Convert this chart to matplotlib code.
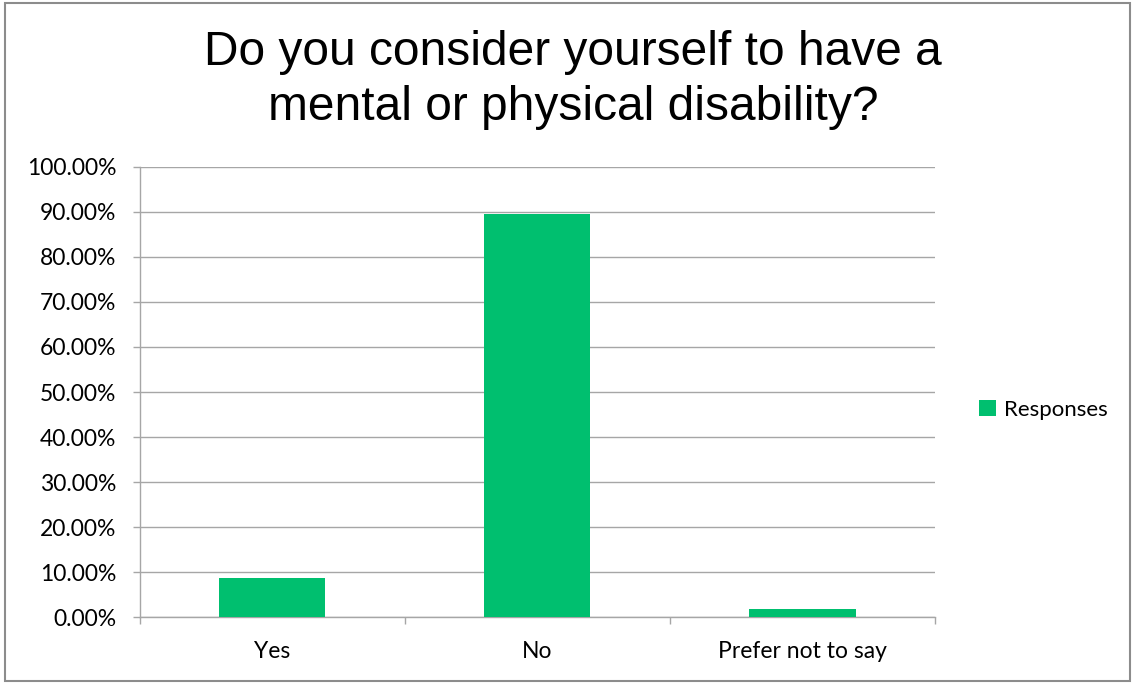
import matplotlib.pyplot as plt
from matplotlib.patches import Rectangle
from matplotlib.ticker import FuncFormatter, MultipleLocator
import numpy as np

# Survey answers and share of responses (%)
categories = ['Yes', 'No', 'Prefer not to say']
responses = [8.7, 89.5, 1.9]
series_name = 'Responses'
title = 'Do you consider yourself to have a\nmental or physical disability?'

green = '#00BF6F'
grid_grey = '#A6A6A6'
label_font = 'Lato'

fig = plt.figure(figsize=(11.35, 6.84), dpi=100)
ax = fig.add_axes([0.1233, 0.0975, 0.7005, 0.6588])

x = np.arange(len(categories))
ax.bar(x, responses, width=0.4, color=green, label=series_name, zorder=3)

# Axis limits and ticks
ax.set_xlim(-0.5, len(categories) - 0.5)
ax.set_ylim(0, 100)
ax.yaxis.set_major_locator(MultipleLocator(10))
ax.yaxis.set_major_formatter(FuncFormatter(lambda v, _: f'{v:.2f}%'))
ax.set_xticks(x)
ax.set_xticklabels(categories)
ax.set_xticks(np.arange(len(categories) + 1) - 0.5, minor=True)

ax.grid(axis='y', color=grid_grey, linewidth=1.0, zorder=0)
ax.tick_params(axis='y', length=5, color=grid_grey, width=1.0, pad=12,
               labelsize=16.5, labelcolor='black')
ax.tick_params(axis='x', which='major', length=0, pad=17,
               labelsize=16.5, labelcolor='black')
ax.tick_params(axis='x', which='minor', length=5, color=grid_grey, width=1.0)
for lab in ax.get_xticklabels() + ax.get_yticklabels():
    lab.set_family(label_font)

for side in ['top', 'right']:
    ax.spines[side].set_visible(False)
for side in ['left', 'bottom']:
    ax.spines[side].set_color(grid_grey)
    ax.spines[side].set_linewidth(1.0)

# Legend on the right
leg = ax.legend(loc='center left', bbox_to_anchor=(1.03, 0.46), frameon=False,
                handlelength=0.75, handleheight=0.75, handletextpad=0.4,
                prop={'family': label_font, 'size': 16})

# Title
fig.text(0.505, 0.883, title, ha='center', va='center', fontsize=34.5,
         family='Liberation Sans', linespacing=1.27)

# Grey border around the chart area
fig.patches.append(Rectangle((5 / 1135, 3 / 684), 1125 / 1135, 678 / 684,
                             transform=fig.transFigure, fill=False,
                             edgecolor='#8C8C8C', linewidth=1.5))

fig.savefig('out.png', dpi=100)
